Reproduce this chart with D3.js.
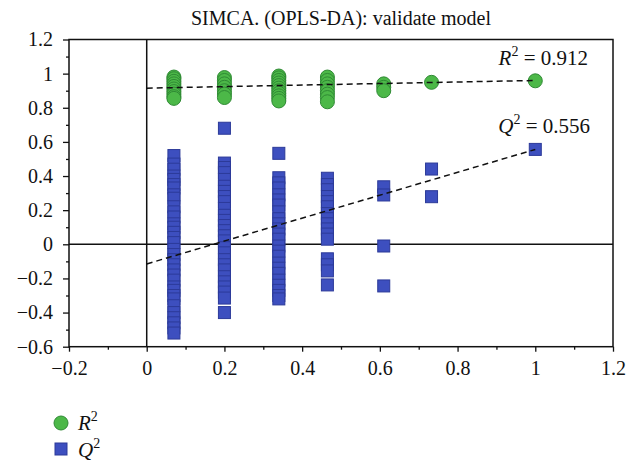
<!DOCTYPE html>
<html><head><meta charset="utf-8">
<script src="https://cdn.jsdelivr.net/npm/d3@7"></script>
<style>
html,body{margin:0;padding:0;background:#fff;}
text{font-family:"Liberation Serif","DejaVu Serif",serif;fill:#111;}
</style></head>
<body><svg id="c" width="640" height="475"></svg>
<script>
// ---- data ----
const title = "SIMCA. (OPLS-DA): validate model";
const permX = [0.07, 0.2, 0.34, 0.465, 0.61, 0.733, 1.0];
const r2Values = [
  [0.98, 0.97, 0.955, 0.94, 0.925, 0.91, 0.895, 0.88, 0.865, 0.855],
  [0.977, 0.96, 0.94, 0.92, 0.90, 0.88, 0.86],
  [0.986, 0.975, 0.96, 0.945, 0.93, 0.915, 0.90, 0.885, 0.87, 0.855, 0.84],
  [0.98, 0.96, 0.94, 0.92, 0.90, 0.88, 0.86, 0.835],
  [0.94, 0.92, 0.90],
  [0.949],
  [0.958]
];
const q2Values = [
  [0.52, 0.47, 0.44, 0.40, 0.38, 0.35, 0.33, 0.29, 0.27, 0.22, 0.19, 0.16, 0.12, 0.10, 0.07, 0.04, 0.01, -0.03, -0.06, -0.09, -0.12, -0.15, -0.18, -0.21, -0.25, -0.27, -0.30, -0.32, -0.36, -0.40, -0.43, -0.46, -0.49, -0.52],
  [0.68, 0.476, 0.45, 0.42, 0.38, 0.34, 0.31, 0.28, 0.25, 0.21, 0.17, 0.14, 0.11, 0.08, 0.05, 0.02, -0.02, -0.05, -0.09, -0.12, -0.15, -0.19, -0.22, -0.25, -0.28, -0.315, -0.40],
  [0.533, 0.39, 0.36, 0.33, 0.29, 0.26, 0.23, 0.19, 0.15, 0.12, 0.09, 0.06, 0.03, -0.01, -0.04, -0.07, -0.11, -0.14, -0.17, -0.21, -0.24, -0.27, -0.30, -0.32],
  [0.387, 0.35, 0.32, 0.28, 0.25, 0.22, 0.18, 0.15, 0.12, 0.09, 0.06, 0.03, -0.085, -0.12, -0.156, -0.238],
  [0.337, 0.289, -0.01, -0.244],
  [0.441, 0.279],
  [0.556]
];
const r2FitX = [0, 1];
const r2FitY = [0.915, 0.96];
const q2FitX = [0, 1];
const q2FitY = [-0.115, 0.556];
const r2Label = "0.912";
const q2Label = "0.556";
const xTicks = [-0.2, 0, 0.2, 0.4, 0.6, 0.8, 1, 1.2];
const yTicks = [-0.6, -0.4, -0.2, 0, 0.2, 0.4, 0.6, 0.8, 1, 1.2];

// ---- layout ----
const L = 69, R = 613, T = 39.5, B = 346.7;
const x = d3.scaleLinear().domain([-0.2, 1.2]).range([L, R]);
const y = d3.scaleLinear().domain([-0.6, 1.2]).range([B, T]);
const svg = d3.select("#c");
const fmt = v => (v < 0 ? "\u2212" : "") + String(Math.abs(+v.toFixed(1)));
const FS = 20;

// title
svg.append("text").attr("x", 341).attr("y", 25).attr("text-anchor", "middle")
  .attr("font-size", FS).text(title);

// frame
svg.append("rect").attr("x", L).attr("y", T).attr("width", R - L).attr("height", B - T)
  .attr("fill", "none").attr("stroke", "#111").attr("stroke-width", 1.5);

// zero lines
svg.append("line").attr("x1", L).attr("x2", R).attr("y1", y(0)).attr("y2", y(0))
  .attr("stroke", "#111").attr("stroke-width", 1.5);
svg.append("line").attr("x1", x(0)).attr("x2", x(0)).attr("y1", T).attr("y2", B)
  .attr("stroke", "#111").attr("stroke-width", 1.5);

// y axis
const yAx = svg.append("g").attr("transform", `translate(${L},0)`)
  .call(d3.axisLeft(y).tickValues(yTicks).tickFormat(fmt).tickSize(6).tickPadding(10));
const yMinor = svg.append("g").attr("transform", `translate(${L},0)`)
  .call(d3.axisLeft(y).tickValues(d3.range(-0.5, 1.2, 0.2)).tickFormat("").tickSize(3));
// x axis
const xAx = svg.append("g").attr("transform", `translate(0,${B})`)
  .call(d3.axisBottom(x).tickValues(xTicks).tickFormat(fmt).tickSize(5).tickPadding(9));
const xMinor = svg.append("g").attr("transform", `translate(0,${B})`)
  .call(d3.axisBottom(x).tickValues(d3.range(-0.1, 1.2, 0.2)).tickFormat("").tickSize(3));
[yAx, yMinor, xAx, xMinor].forEach(g => {
  g.select(".domain").remove();
  g.selectAll("line").attr("stroke", "#111").attr("stroke-width", 1.3);
  g.selectAll("text").attr("font-size", FS).attr("fill", "#111")
    .style("font-family", "'Liberation Serif', serif");
});

// points
const q2Pts = [], r2Pts = [];
permX.forEach((px, i) => {
  q2Values[i].forEach(v => q2Pts.push([px, v]));
  r2Values[i].forEach(v => r2Pts.push([px, v]));
});
const S = 12;
svg.append("g").selectAll("rect").data(q2Pts).join("rect")
  .attr("x", d => x(d[0]) - S / 2).attr("y", d => y(d[1]) - S / 2)
  .attr("width", S).attr("height", S)
  .attr("fill", "#3d4fbf").attr("stroke", "#2c3a99").attr("stroke-width", 1);
svg.append("g").selectAll("circle").data(r2Pts).join("circle")
  .attr("cx", d => x(d[0])).attr("cy", d => y(d[1])).attr("r", 7)
  .attr("fill", "#4cb848").attr("stroke", "#2f8a34").attr("stroke-width", 1);

// fit lines
const line = d3.line().x(d => x(d[0])).y(d => y(d[1]));
svg.append("path").attr("d", line(r2FitX.map((v, i) => [v, r2FitY[i]])))
  .attr("fill", "none").attr("stroke", "#111").attr("stroke-width", 1.5).attr("stroke-dasharray", "6,4");
svg.append("path").attr("d", line(q2FitX.map((v, i) => [v, q2FitY[i]])))
  .attr("fill", "none").attr("stroke", "#111").attr("stroke-width", 1.5).attr("stroke-dasharray", "6,4");

// annotations
function stat(xp, yp, letter, val) {
  const t = svg.append("text").attr("x", xp).attr("y", yp).attr("text-anchor", "end").attr("font-size", 21);
  t.append("tspan").attr("font-style", "italic").text(letter);
  t.append("tspan").attr("font-size", 14).attr("dy", -9).text("2");
  t.append("tspan").attr("dy", 9).text(" = " + val);
}
stat(588, 65, "R", r2Label);
stat(590, 133, "Q", q2Label);

// legend
svg.append("circle").attr("cx", 61).attr("cy", 423).attr("r", 7)
  .attr("fill", "#4cb848").attr("stroke", "#2f8a34");
svg.append("rect").attr("x", 55).attr("y", 443).attr("width", 12).attr("height", 12)
  .attr("fill", "#3d4fbf").attr("stroke", "#2c3a99");
function legText(xp, yp, letter) {
  const t = svg.append("text").attr("x", xp).attr("y", yp).attr("font-size", 21);
  t.append("tspan").attr("font-style", "italic").text(letter);
  t.append("tspan").attr("font-size", 14).attr("dy", -9).text("2");
}
legText(78, 430, "R");
legText(78, 457, "Q");
</script></body></html>
